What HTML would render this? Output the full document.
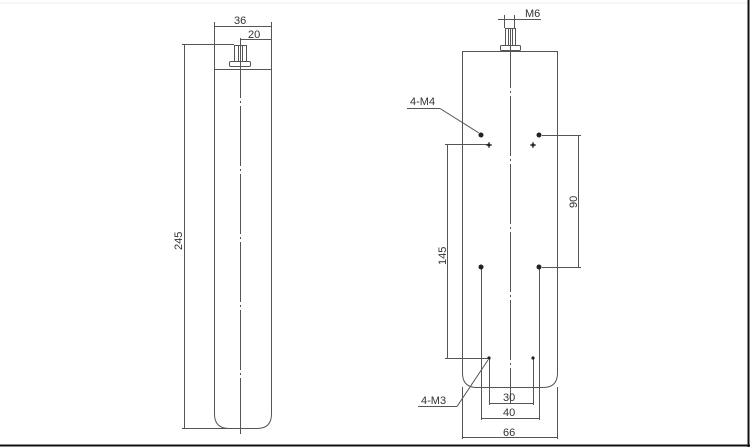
<!DOCTYPE html>
<html><head><meta charset="utf-8"><style>
html,body{margin:0;padding:0;background:#fff;}
svg{display:block;}
text{font-family:"Liberation Sans",sans-serif;font-size:11px;fill:#333;}
</style></head><body>
<svg width="750" height="447" viewBox="0 0 750 447" xmlns="http://www.w3.org/2000/svg">
<rect x="0" y="0" width="750" height="447" fill="#fff"/>
<line x1="0" y1="3" x2="748" y2="3" stroke="#eee" stroke-width="1"/>
<line x1="0" y1="445.5" x2="750" y2="445.5" stroke="#111" stroke-width="2"/>
<line x1="748.5" y1="0" x2="748.5" y2="447" stroke="#111" stroke-width="2"/>
<g stroke="#555" stroke-width="1" fill="none">
<!-- LEFT VIEW -->
<path d="M214.5 69.5 H271.5 V414 Q271.5 428.5 257 428.5 H229 Q214.5 428.5 214.5 414 Z"/>
<line x1="240.5" y1="38" x2="240.5" y2="434" stroke-dasharray="60 3 2 3"/>
<rect x="234.5" y="45.5" width="12" height="16"/>
<line x1="238.5" y1="46" x2="238.5" y2="61"/><line x1="242.5" y1="46" x2="242.5" y2="61"/>
<rect x="229.5" y="61.5" width="21" height="5" rx="1"/>
<!-- 36 -->
<line x1="214.5" y1="22" x2="214.5" y2="69"/><line x1="271.5" y1="22" x2="271.5" y2="69"/>
<line x1="214.5" y1="26.5" x2="271.5" y2="26.5"/>
<line x1="240.5" y1="39.5" x2="271.5" y2="39.5"/>
<!-- 245 -->
<line x1="184.5" y1="44" x2="184.5" y2="428"/>
<line x1="182" y1="44.5" x2="234" y2="44.5"/>
<line x1="182" y1="428.5" x2="240" y2="428.5"/>
<!-- RIGHT VIEW -->
<path d="M462.5 51.5 H557.5 V373 Q557.5 387.5 543 387.5 H477 Q462.5 387.5 462.5 373 Z"/>
<line x1="510.5" y1="28" x2="510.5" y2="403" stroke-dasharray="60 3 2 3"/>
<rect x="505.5" y="28.5" width="10" height="17"/>
<line x1="508.5" y1="29" x2="508.5" y2="45"/><line x1="512.5" y1="29" x2="512.5" y2="45"/>
<rect x="500.5" y="45.5" width="20" height="5" rx="1"/>
<line x1="498" y1="19.5" x2="541" y2="19.5"/>
<line x1="504.5" y1="15" x2="504.5" y2="28"/><line x1="514.5" y1="15" x2="514.5" y2="28"/>
<!-- 4-M4 -->
<line x1="407" y1="108.5" x2="440" y2="108.5"/>
<line x1="440" y1="108.5" x2="479" y2="133"/>
<!-- 90 -->
<line x1="542" y1="135.5" x2="581" y2="135.5"/>
<line x1="542" y1="267.5" x2="581" y2="267.5"/>
<line x1="578.5" y1="135" x2="578.5" y2="268"/>
<!-- 145 -->
<line x1="445" y1="144.5" x2="488" y2="144.5"/>
<line x1="445" y1="358.5" x2="488" y2="358.5"/>
<line x1="447.5" y1="144" x2="447.5" y2="359"/>
<!-- 30 -->
<line x1="489.5" y1="358" x2="489.5" y2="405"/><line x1="533.5" y1="358" x2="533.5" y2="405"/>
<line x1="489.5" y1="403.5" x2="533.5" y2="403.5"/>
<!-- 40 -->
<line x1="481.5" y1="267" x2="481.5" y2="420"/><line x1="539.5" y1="267" x2="539.5" y2="420"/>
<line x1="481.5" y1="418.5" x2="539.5" y2="418.5"/>
<!-- 66 -->
<line x1="462.5" y1="387" x2="462.5" y2="439"/><line x1="557.5" y1="387" x2="557.5" y2="439"/>
<line x1="462.5" y1="437.5" x2="557.5" y2="437.5"/>
<!-- 4-M3 -->
<line x1="418" y1="406.5" x2="457" y2="406.5"/>
<line x1="457" y1="406.5" x2="488" y2="360"/>
</g>
<g fill="#222">
<circle cx="481" cy="135" r="2.5"/><circle cx="539" cy="135" r="2.5"/>
<circle cx="481" cy="267" r="2.5"/><circle cx="539" cy="267" r="2.5"/>
<circle cx="489" cy="145" r="1.6"/><circle cx="533" cy="145" r="1.6"/>
<circle cx="489" cy="358" r="1.6"/><circle cx="533" cy="358" r="1.6"/>
</g>
<g stroke="#222" stroke-width="1">
<line x1="486" y1="145" x2="492" y2="145"/><line x1="489" y1="142" x2="489" y2="148"/>
<line x1="530" y1="145" x2="536" y2="145"/><line x1="533" y1="142" x2="533" y2="148"/>
</g>
<text x="234" y="24">36</text>
<text x="248" y="38">20</text>
<text x="0" y="0" transform="translate(182,250) rotate(-90)">245</text>
<text x="525" y="17">M6</text>
<text x="410" y="105">4-M4</text>
<text x="0" y="0" transform="translate(577,208) rotate(-90)">90</text>
<text x="0" y="0" transform="translate(446,265) rotate(-90)">145</text>
<text x="503" y="401">30</text>
<text x="503" y="416">40</text>
<text x="503" y="436">66</text>
<text x="421" y="404">4-M3</text>
</svg>
</body></html>
